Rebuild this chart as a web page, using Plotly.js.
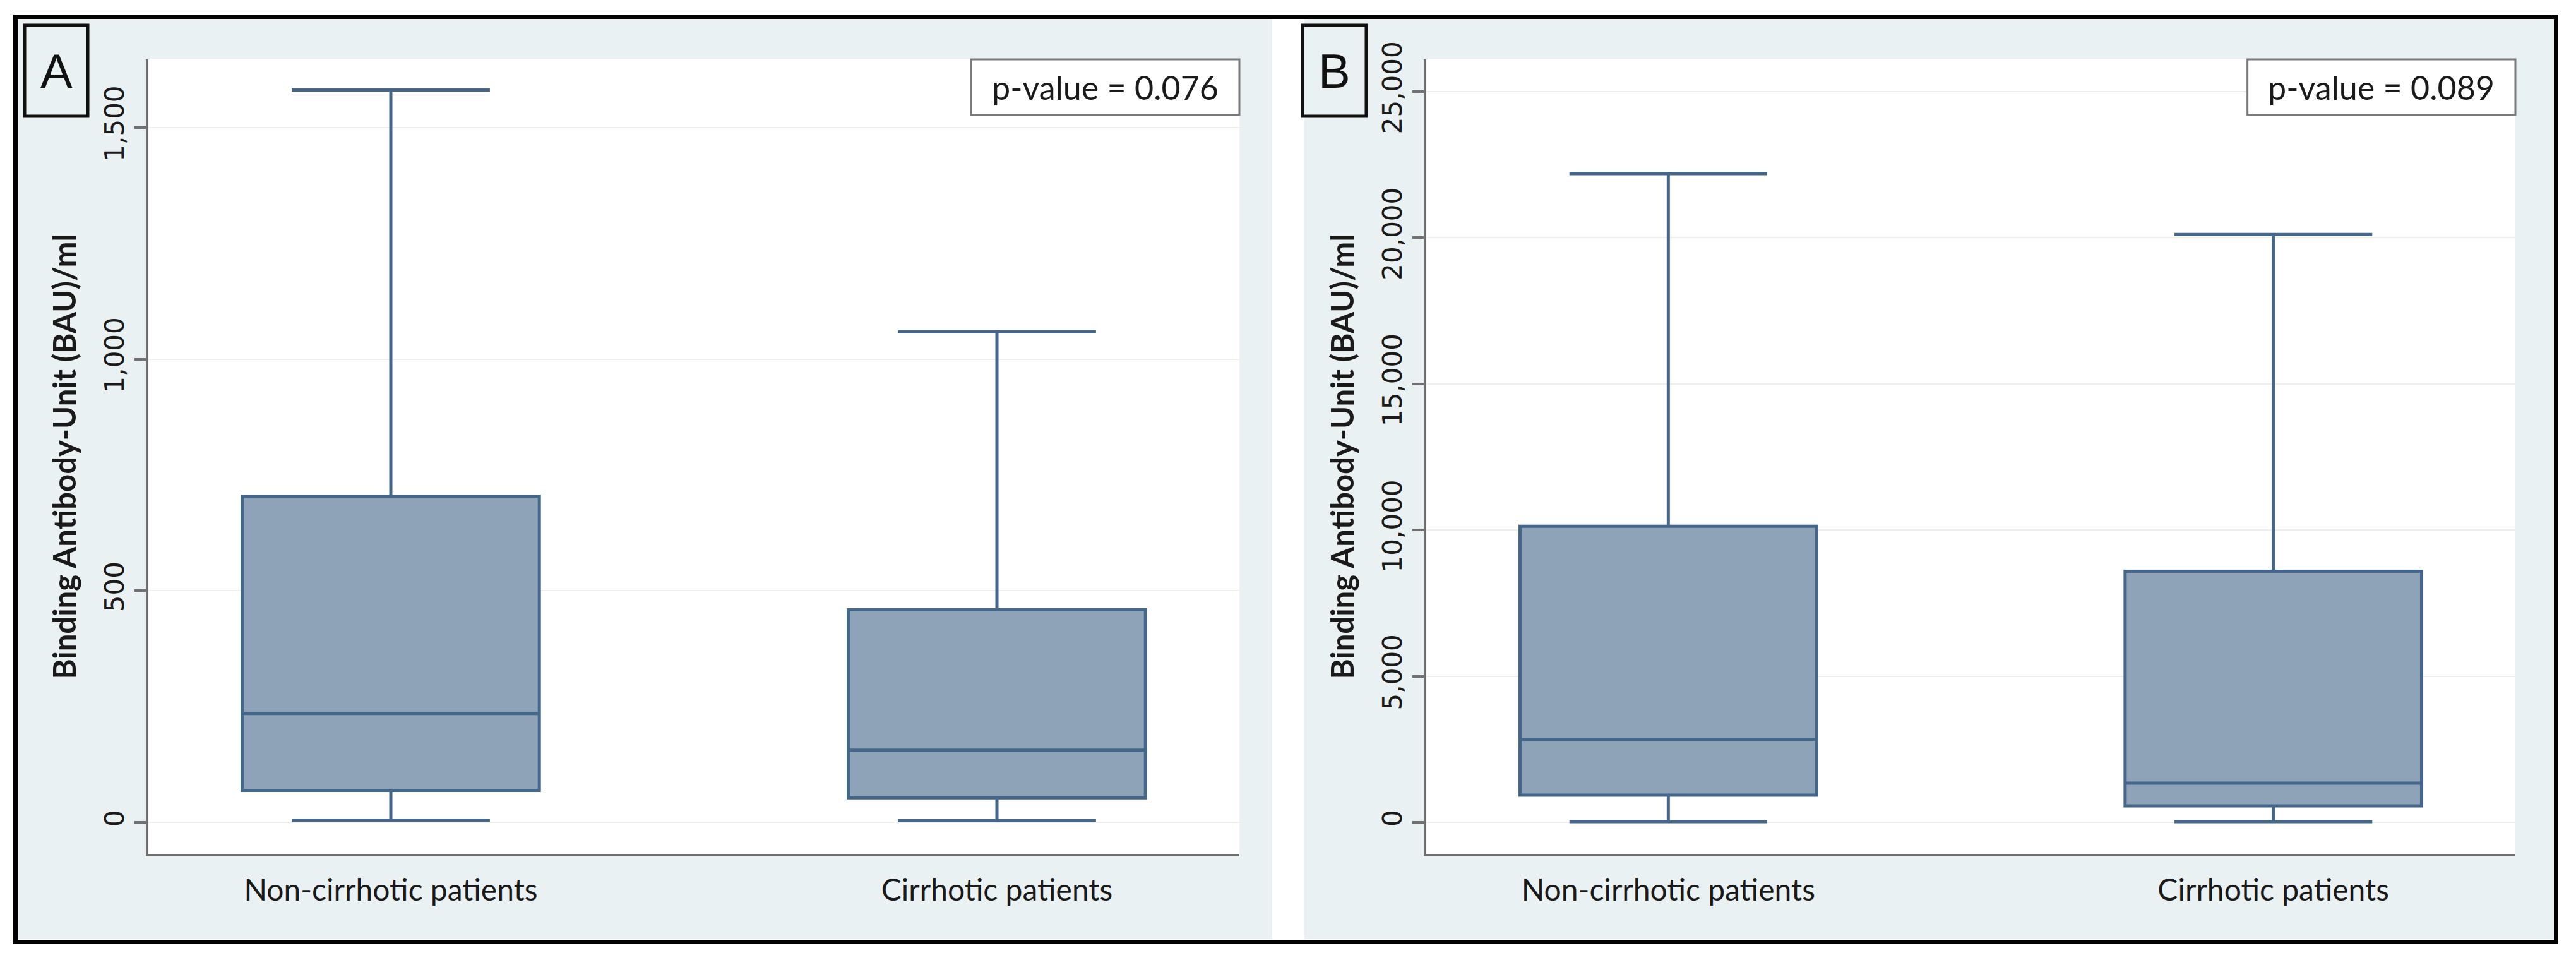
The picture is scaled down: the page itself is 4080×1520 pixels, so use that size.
<!DOCTYPE html>
<html>
<head>
<meta charset="utf-8">
<script src="https://cdn.plot.ly/plotly-3.0.1.min.js"></script>
<style>html,body{margin:0;padding:0;background:#fff;}#chart{width:4080px;height:1520px;}</style>
</head>
<body>
<div id="chart"></div>
<script>
// ---- data ----
const categories = ['Non-cirrhotic patients', 'Cirrhotic patients'];

// Panel A (BAU/ml)
const lowerA  = [5, 4];
const q1A     = [69, 53];
const medianA = [235, 156];
const q3A     = [704, 459];
const upperA  = [1581, 1059];
const yTicksA = [0, 500, 1000, 1500];

// Panel B (BAU/ml)
const lowerB  = [20, 20];
const q1B     = [930, 560];
const medianB = [2835, 1340];
const q3B     = [10130, 8590];
const upperB  = [22190, 20110];
const yTicksB = [0, 5000, 10000, 15000, 20000, 25000];

const panelLabels = ['A', 'B'];
const pValueTexts = ['p-value = 0.076', 'p-value = 0.089'];
const yTitle = 'Binding Antibody-Unit (BAU)/ml';

// ---- styling ----
const W = 4080, H = 1520;
const px = v => v / W;
const py = v => 1 - v / H;
const panelBg = '#EAF1F3';
const boxFill = '#8EA3B8';
const boxLine = '#43668A';
const axisGrey = '#707070';
const narrowFont = 'Lato, "Liberation Sans Narrow", "Open Sans", sans-serif';

function boxTrace(xa, ya, lo, q1, med, q3, up) {
  return {
    type: 'box', xaxis: xa, yaxis: ya,
    x: categories, q1: q1, median: med, q3: q3,
    lowerfence: lo, upperfence: up,
    boxpoints: false, width: 0.49, whiskerwidth: 0.667,
    fillcolor: boxFill, line: { color: boxLine, width: 5 },
    hoverinfo: 'skip', showlegend: false
  };
}

const data = [
  boxTrace('x', 'y', lowerA, q1A, medianA, q3A, upperA),
  boxTrace('x2', 'y2', lowerB, q1B, medianB, q3B, upperB)
];

function xAxis(domain) {
  return {
    domain: domain, type: 'category', range: [-0.4, 1.4],
    showline: true, linecolor: axisGrey, linewidth: 4,
    ticks: '', showgrid: false, zeroline: false,
    tickfont: { family: narrowFont, size: 48, color: '#1a1a1a' },
    ticklabelstandoff: 12, fixedrange: true
  };
}
function yAxis(range, ticks, anchor) {
  return {
    domain: [py(1352), py(94)], range: range, anchor: anchor,
    tickvals: ticks, tickformat: ',', tickangle: -90,
    ticks: 'outside', ticklen: 18, tickwidth: 4, tickcolor: axisGrey,
    showline: true, linecolor: axisGrey, linewidth: 4,
    showgrid: true, gridcolor: '#EEEEEA', gridwidth: 2, zeroline: false,
    tickfont: { family: '"DejaVu Sans", Verdana, sans-serif', size: 42, color: '#1a1a1a' },
    title: { text: yTitle, standoff: 22,
             font: { family: narrowFont, size: 49, color: '#1a1a1a', weight: 'bold' } },
    fixedrange: true
  };
}

const domA = [px(235), px(1963)];
const domB = [px(2259), px(3984)];

const shapes = [
  // panel backgrounds
  { type: 'rect', xref: 'paper', yref: 'paper', layer: 'below',
    x0: px(28), x1: px(2015), y0: py(1487), y1: py(30), fillcolor: panelBg, line: { width: 0 } },
  { type: 'rect', xref: 'paper', yref: 'paper', layer: 'below',
    x0: px(2066), x1: px(4045), y0: py(1487), y1: py(30), fillcolor: panelBg, line: { width: 0 } },
  // white plot areas
  { type: 'rect', xref: 'x domain', yref: 'y domain', layer: 'below',
    x0: 0, x1: 1, y0: 0, y1: 1, fillcolor: '#FFFFFF', line: { width: 0 } },
  { type: 'rect', xref: 'x2 domain', yref: 'y2 domain', layer: 'below',
    x0: 0, x1: 1, y0: 0, y1: 1, fillcolor: '#FFFFFF', line: { width: 0 } },
  // p-value boxes
  { type: 'rect', xref: 'x domain', yref: 'y domain', layer: 'above',
    x0: 0.754, x1: 1.0, y0: 0.930, y1: 1.0, fillcolor: '#FFFFFF', line: { color: '#7a7a7a', width: 3 } },
  { type: 'rect', xref: 'x2 domain', yref: 'y2 domain', layer: 'above',
    x0: 0.754, x1: 1.0, y0: 0.930, y1: 1.0, fillcolor: '#FFFFFF', line: { color: '#7a7a7a', width: 3 } },
  // panel label boxes
  { type: 'rect', xref: 'paper', yref: 'paper', layer: 'above',
    x0: px(39), x1: px(139), y0: py(184), y1: py(40), fillcolor: panelBg, line: { color: '#111', width: 5 } },
  { type: 'rect', xref: 'paper', yref: 'paper', layer: 'above',
    x0: px(2063), x1: px(2164), y0: py(184), y1: py(40), fillcolor: panelBg, line: { color: '#111', width: 5 } },
  // outer black frame
  { type: 'rect', xref: 'paper', yref: 'paper', layer: 'above',
    x0: px(24.5), x1: px(4048.5), y0: py(1491.5), y1: py(26.5), line: { color: '#000', width: 7 } }
];

const annotations = [
  { xref: 'paper', yref: 'paper', x: px(89), y: py(112), text: panelLabels[0], showarrow: false,
    xanchor: 'center', yanchor: 'middle', font: { family: '"Liberation Sans", Arial, sans-serif', size: 76, color: '#111' } },
  { xref: 'paper', yref: 'paper', x: px(2113.5), y: py(112), text: panelLabels[1], showarrow: false,
    xanchor: 'center', yanchor: 'middle', font: { family: '"Liberation Sans", Arial, sans-serif', size: 76, color: '#111' } },
  { xref: 'x domain', yref: 'y domain', x: 0.877, y: 0.965, text: pValueTexts[0], showarrow: false,
    xanchor: 'center', yanchor: 'middle', font: { family: narrowFont, size: 52, color: '#1a1a1a' } },
  { xref: 'x2 domain', yref: 'y2 domain', x: 0.877, y: 0.965, text: pValueTexts[1], showarrow: false,
    xanchor: 'center', yanchor: 'middle', font: { family: narrowFont, size: 52, color: '#1a1a1a' } }
];

const layout = {
  width: W, height: H,
  margin: { l: 0, r: 0, t: 0, b: 0, pad: 0 },
  paper_bgcolor: '#FFFFFF', plot_bgcolor: 'rgba(0,0,0,0)',
  showlegend: false,
  xaxis: Object.assign(xAxis(domA), { anchor: 'y' }),
  yaxis: yAxis([-68, 1647], yTicksA, 'x'),
  xaxis2: Object.assign(xAxis(domB), { anchor: 'y2' }),
  yaxis2: yAxis([-1082, 26104], yTicksB, 'x2'),
  shapes: shapes, annotations: annotations
};

Plotly.newPlot('chart', data, layout, { staticPlot: true, displayModeBar: false });
</script>
</body>
</html>
